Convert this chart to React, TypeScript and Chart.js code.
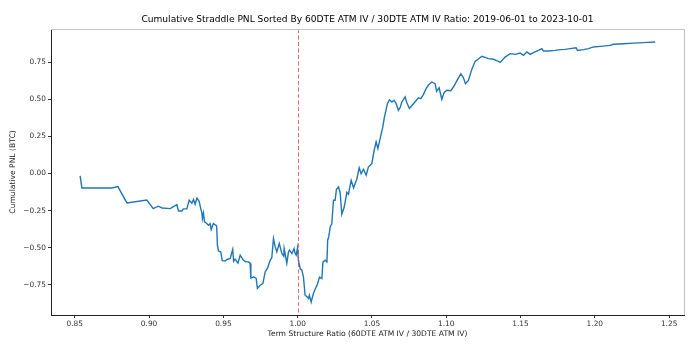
import React, { useEffect, useRef } from "react";
import { Chart, registerables } from "chart.js";

Chart.register(...registerables);

const titleText = "Cumulative Straddle PNL Sorted By 60DTE ATM IV / 30DTE ATM IV Ratio: 2019-06-01 to 2023-10-01";
const xAxisTitle = "Term Structure Ratio (60DTE ATM IV / 30DTE ATM IV)";
const yAxisTitle = "Cumulative PNL (BTC)";

const ratios = [
  0.8536, 0.8548, 0.8750, 0.8790, 0.8851, 0.8985, 0.9028, 0.9061, 0.9088, 0.9142,
  0.9187, 0.9198, 0.9221, 0.9231, 0.9254, 0.9270, 0.9288, 0.9299, 0.9310, 0.9322,
  0.9337, 0.9349, 0.9355, 0.9359, 0.9366, 0.9373, 0.9384, 0.9400, 0.9411, 0.9418,
  0.9433, 0.9450, 0.9455, 0.9460, 0.9467, 0.9483, 0.9492, 0.9512, 0.9524, 0.9546,
  0.9563, 0.9569, 0.9579, 0.9598, 0.9613, 0.9635, 0.9651, 0.9669, 0.9680, 0.9685,
  0.9703, 0.9721, 0.9729, 0.9748, 0.9766, 0.9781, 0.9797, 0.9815, 0.9826, 0.9837,
  0.9849, 0.9860, 0.9876, 0.9894, 0.9906, 0.9909, 0.9927, 0.9938, 0.9945, 0.9961,
  0.9976, 0.9983, 0.9990, 0.9999, 1.0005, 1.0017, 1.0028, 1.0039, 1.0050, 1.0066,
  1.0073, 1.0079, 1.0091, 1.0106, 1.0124, 1.0131, 1.0147, 1.0163, 1.0170, 1.0185,
  1.0197, 1.0202, 1.0209, 1.0219, 1.0230, 1.0241, 1.0252, 1.0261, 1.0275, 1.0286,
  1.0297, 1.0313, 1.0331, 1.0342, 1.0360, 1.0376, 1.0398, 1.0414, 1.0427, 1.0443,
  1.0461, 1.0476, 1.0499, 1.0515, 1.0528, 1.0540, 1.0555, 1.0573, 1.0582, 1.0589,
  1.0604, 1.0618, 1.0634, 1.0649, 1.0663, 1.0678, 1.0690, 1.0701, 1.0723, 1.0735,
  1.0752, 1.0791, 1.0813, 1.0829, 1.0847, 1.0865, 1.0882, 1.0903, 1.0925, 1.0935,
  1.0952, 1.0970, 1.0986, 1.1004, 1.1030, 1.1048, 1.1071, 1.1098, 1.1116, 1.1129,
  1.1149, 1.1172, 1.1194, 1.1240, 1.1284, 1.1318, 1.1343, 1.1363, 1.1396, 1.1430,
  1.1464, 1.1497, 1.1520, 1.1542, 1.1565, 1.1587, 1.1620, 1.1643, 1.1654, 1.1688,
  1.1733, 1.1766, 1.1800, 1.1834, 1.1874, 1.1883, 1.1923, 1.1957, 1.1991, 1.2036,
  1.2103, 1.2125, 1.2192, 1.2260, 1.2327, 1.2406,
];

const cumulativePnl = [
  -0.016, -0.097, -0.097, -0.088, -0.198, -0.178, -0.236, -0.220, -0.232, -0.236,
  -0.209, -0.252, -0.252, -0.238, -0.238, -0.180, -0.200, -0.175, -0.207, -0.166,
  -0.187, -0.242, -0.261, -0.303, -0.267, -0.326, -0.333, -0.348, -0.337, -0.377,
  -0.337, -0.348, -0.355, -0.483, -0.521, -0.528, -0.587, -0.589, -0.579, -0.572,
  -0.510, -0.591, -0.577, -0.604, -0.550, -0.584, -0.595, -0.595, -0.604, -0.705,
  -0.696, -0.707, -0.774, -0.752, -0.741, -0.663, -0.638, -0.584, -0.567, -0.438,
  -0.494, -0.528, -0.471, -0.539, -0.557, -0.505, -0.604, -0.530, -0.516, -0.539,
  -0.505, -0.539, -0.550, -0.500, -0.584, -0.640, -0.651, -0.698, -0.820, -0.833,
  -0.842, -0.820, -0.865, -0.808, -0.764, -0.752, -0.698, -0.707, -0.597, -0.584,
  -0.595, -0.449, -0.427, -0.360, -0.337, -0.180, -0.180, -0.106, -0.090, -0.129,
  -0.274, -0.227, -0.126, -0.139, -0.045, -0.096, -0.038, 0.039, -0.001, 0.029,
  -0.011, 0.044, 0.067, 0.157, 0.213, 0.168, 0.236, 0.314, 0.370, 0.404,
  0.471, 0.497, 0.482, 0.494, 0.471, 0.426, 0.446, 0.482, 0.516, 0.477,
  0.438, 0.484, 0.510, 0.505, 0.534, 0.574, 0.598, 0.617, 0.606, 0.554,
  0.578, 0.500, 0.547, 0.561, 0.558, 0.583, 0.625, 0.672, 0.645, 0.606,
  0.628, 0.702, 0.756, 0.790, 0.774, 0.770, 0.760, 0.749, 0.785, 0.808,
  0.803, 0.812, 0.797, 0.819, 0.803, 0.815, 0.830, 0.842, 0.826, 0.826,
  0.830, 0.835, 0.837, 0.842, 0.848, 0.830, 0.835, 0.842, 0.853, 0.857,
  0.864, 0.871, 0.875, 0.879, 0.882, 0.886,
];

const xTicks = [0.85, 0.9, 0.95, 1.0, 1.05, 1.1, 1.15, 1.2, 1.25];
const yTicks = [-0.75, -0.5, -0.25, 0.0, 0.25, 0.5, 0.75];
const thresholdRatio = 1.0;

const FONT = '"DejaVu Sans", sans-serif';

const decorPlugin = {
  id: "decor",
  afterDatasetsDraw(chart: any) {
    const { ctx, chartArea, scales } = chart;
    const xs = scales.x;
    ctx.save();
    const px = Math.round(xs.getPixelForValue(thresholdRatio)) + 0.5;
    ctx.strokeStyle = "rgba(226, 70, 70, 0.8)";
    ctx.lineWidth = 1;
    ctx.setLineDash([4, 2.5]);
    ctx.beginPath();
    ctx.moveTo(px, chartArea.top);
    ctx.lineTo(px, chartArea.bottom);
    ctx.stroke();
    ctx.setLineDash([]);
    ctx.strokeStyle = "#c4c4c4";
    ctx.lineWidth = 1.2;
    ctx.beginPath();
    ctx.moveTo(chartArea.left, chartArea.top + 0.5);
    ctx.lineTo(chartArea.right + 0.5, chartArea.top + 0.5);
    ctx.lineTo(chartArea.right + 0.5, chartArea.bottom);
    ctx.stroke();
    ctx.restore();
  },
  afterDraw(chart: any) {
    const { ctx, chartArea } = chart;
    ctx.save();
    ctx.fillStyle = "#000";
    ctx.textAlign = "center";
    ctx.textBaseline = "middle";
    const cx = (chartArea.left + chartArea.right) / 2;
    ctx.font = `9.1px ${FONT}`;
    ctx.fillText(titleText, cx, 20);
    ctx.font = `7.6px ${FONT}`;
    ctx.fillStyle = "#222";
    ctx.fillText(xAxisTitle, cx, 334);
    ctx.translate(13, (chartArea.top + chartArea.bottom) / 2);
    ctx.rotate(-Math.PI / 2);
    ctx.fillText(yAxisTitle, 0, 0);
    ctx.restore();
  },
};

export default function App() {
  const canvasRef = useRef<HTMLCanvasElement | null>(null);

  useEffect(() => {
    const canvas = canvasRef.current;
    if (!canvas) return;
    const points = ratios.map((r, i) => ({ x: r, y: cumulativePnl[i] }));
    const chart = new Chart(canvas, {
      type: "line",
      data: {
        datasets: [
          {
            data: points,
            borderColor: "#1f77b4",
            borderWidth: 1.4,
            pointRadius: 0,
            tension: 0,
            fill: false,
          },
        ],
      },
      options: {
        animation: false,
        responsive: false,
        devicePixelRatio: 1,
        parsing: false,
        layout: { padding: { left: 0, top: 29, right: 9, bottom: 0 } },
        plugins: {
          legend: { display: false },
          title: { display: false },
          tooltip: { enabled: false },
        },
        scales: {
          x: {
            type: "linear",
            min: 0.834,
            max: 1.26,
            afterBuildTicks: (scale: any) => {
              scale.ticks = xTicks.map((v) => ({ value: v }));
            },
            afterFit: (scale: any) => {
              scale.height = 37;
            },
            ticks: {
              callback: (v: any) => Number(v).toFixed(2),
              font: { family: FONT, size: 7.4 },
              color: "#333",
              padding: 2,
              maxRotation: 0,
              autoSkip: false,
            },
            grid: {
              drawOnChartArea: false,
              drawTicks: true,
              tickLength: 3,
              color: "#333",
            },
            border: { display: true, color: "#222", width: 1 },
          },
          y: {
            type: "linear",
            min: -0.953,
            max: 0.974,
            afterBuildTicks: (scale: any) => {
              scale.ticks = yTicks.map((v) => ({ value: v }));
            },
            afterFit: (scale: any) => {
              scale.width = 51;
            },
            ticks: {
              callback: (v: any) => {
                const s = Number(v).toFixed(2);
                return s.startsWith("-") ? "\u2212" + s.slice(1) : s;
              },
              font: { family: FONT, size: 7.4 },
              color: "#333",
              padding: 2,
              autoSkip: false,
            },
            grid: {
              drawOnChartArea: false,
              drawTicks: true,
              tickLength: 3,
              color: "#333",
            },
            border: { display: true, color: "#222", width: 1 },
          },
        },
      },
      plugins: [decorPlugin],
    });
    return () => chart.destroy();
  }, []);

  return (
    <div style={{ position: "absolute", left: 0, top: 0, width: 693, height: 352, background: "#fff" }}>
      <canvas ref={canvasRef} width={693} height={352} style={{ width: 693, height: 352, display: "block" }} />
    </div>
  );
}
